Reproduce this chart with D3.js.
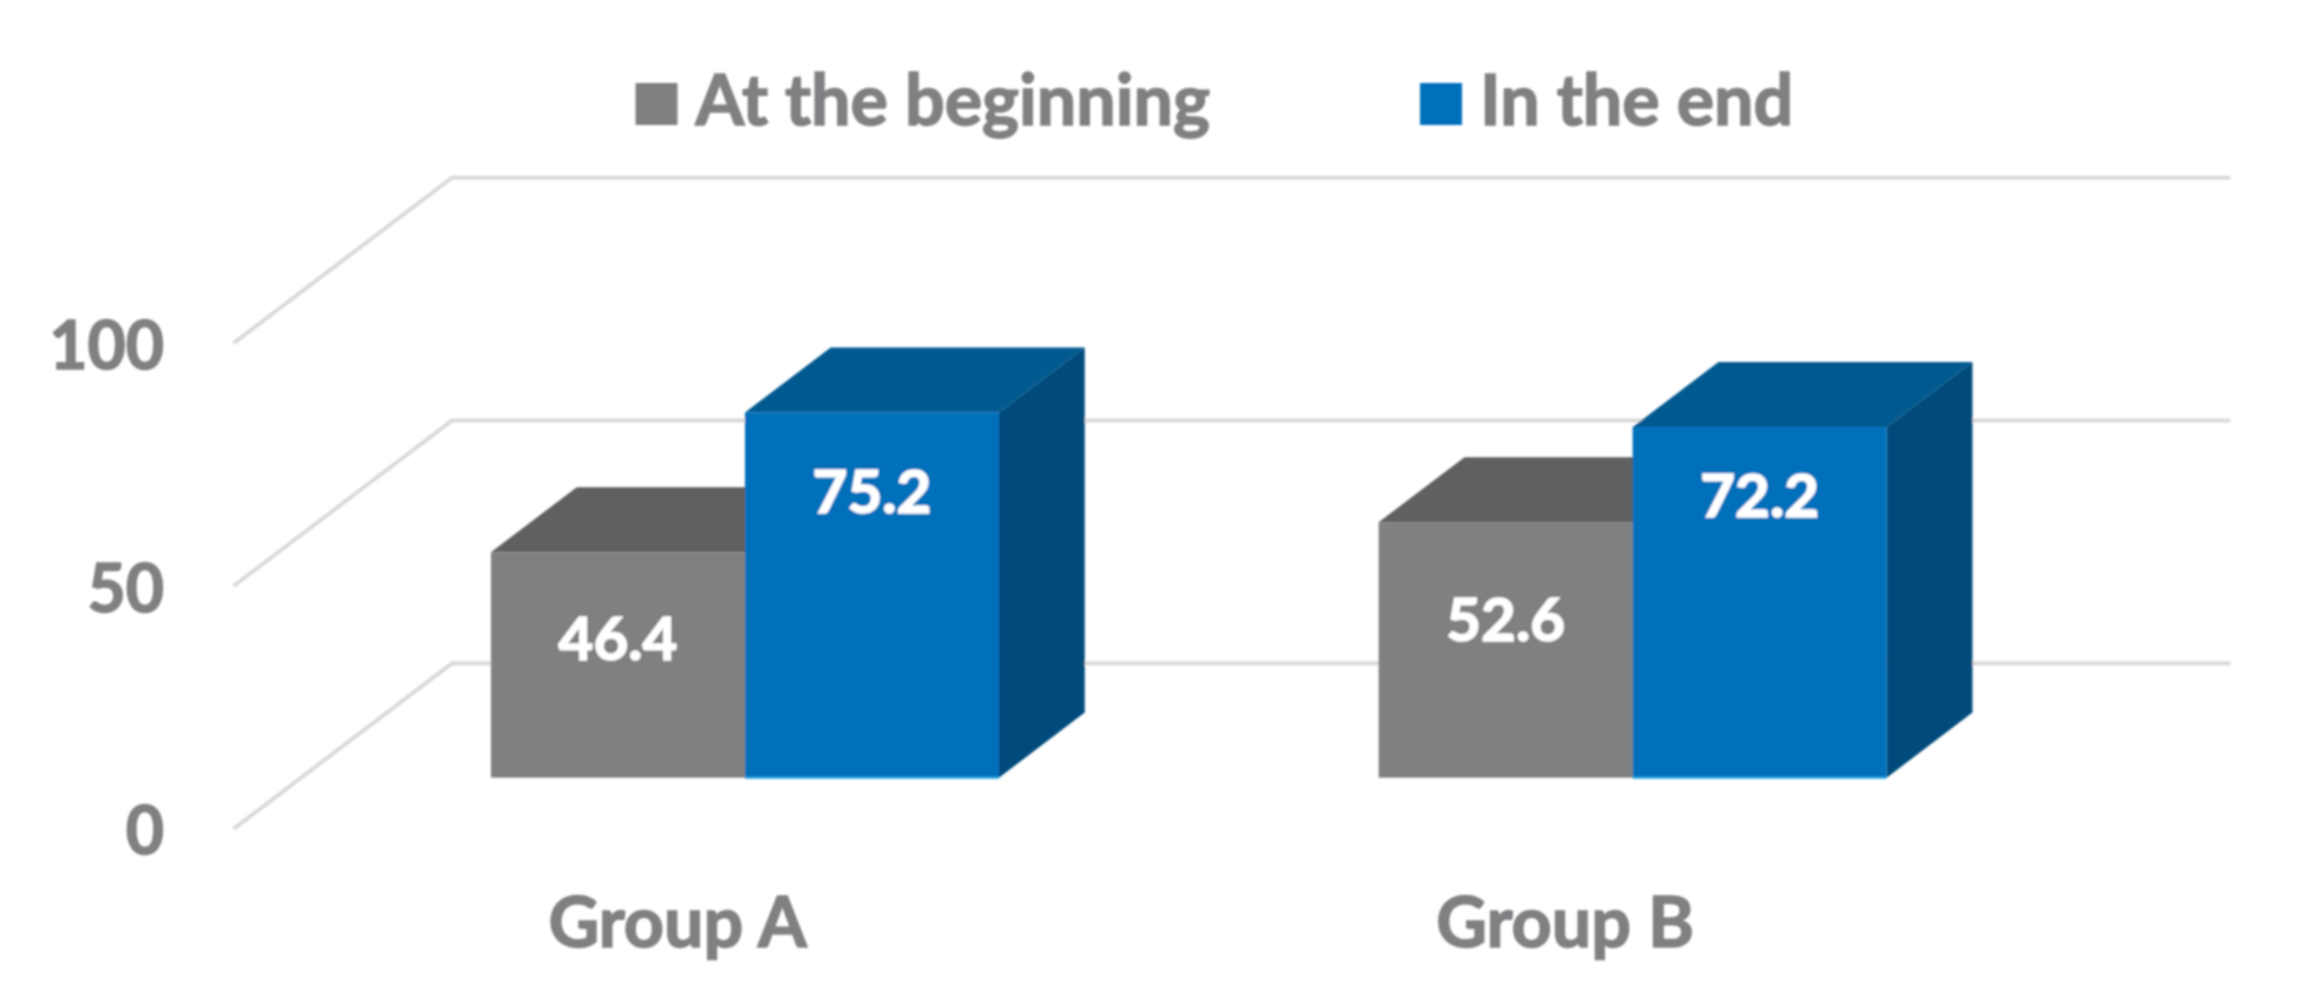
<!DOCTYPE html>
<meta charset="utf-8">
<style>
  body { margin: 0; background: #fff; }
  text { font-family: Lato, sans-serif; font-weight: 700; stroke-width: 1.6px; paint-order: stroke; }
</style>
<body>
<script src="https://d3js.org/d3.v7.min.js"></script>
<script>

var categories = ["Group A", "Group B"];
var seriesNames = ["At the beginning", "In the end"];
var beginning = [46.4, 52.6];
var ending = [75.2, 72.2];
var yTicks = [0, 50, 100];

var width = 2303, height = 1002;
var textColor = "#7f8082";

// face colours per series: front, top, side
var faces = [
    { front: "#7f807f", top: "#5f605f", side: "#5f605f" },
    { front: "#0070bb", top: "#005a90", side: "#064c7b" }
];

// how far up the front face each label sits, per series and group
var labelLift = [[0.616, 0.618], [0.785, 0.805]];

// the floor goes back by this much in pixels at full depth
var depthX = 218.4, depthY = 165.5;
var barDepthStart = 0.309, barDepthEnd = 0.702;

var svg = d3.select("body").append("svg")
    .attr("width", width)
    .attr("height", height);

// the source is a soft, enlarged image
var blur = svg.append("defs").append("filter").attr("id", "soft");
blur.append("feGaussianBlur").attr("stdDeviation", 0.8);

var root = svg.append("g").attr("filter", "url(#soft)");

var x = d3.scaleBand().domain(categories).range([233.6, 2009]);
var y = d3.scaleLinear().domain([0, 100]).range([828.8, 343.2]);
var x1 = d3.scaleBand().domain([0, 1]).range([0, 508]);

var px = function (xv, d) { return xv + d * depthX; };
var py = function (v, d) { return y(v) - d * depthY; };
var pts = function (list) { return list.map(function (p) { return p.join(","); }).join(" "); };

// gridlines: up the side wall, then along the back
root.append("g").selectAll("polyline")
    .data(yTicks)
  .enter().append("polyline")
    .attr("points", function (t) {
        return pts([[px(x.range()[0], 0), py(t, 0)],
                    [px(x.range()[0], 1), py(t, 1)],
                    [px(x.range()[1] + 3, 1), py(t, 1)]]);
    })
    .attr("fill", "none")
    .attr("stroke", "#d9d9d9")
    .attr("stroke-width", 4);

// y axis labels
var yAxis = d3.axisLeft(y).tickValues(yTicks).tickSize(0).tickPadding(0);
var gy = root.append("g")
    .attr("transform", "translate(164,0)")
    .call(yAxis);
gy.select(".domain").remove();
gy.selectAll("text")
    .attr("dy", "0.38em")
    .style("font-size", "66px")
    .attr("fill", textColor)
    .attr("stroke", textColor);

// bars, back to front in drawing order
var rows = [];
categories.forEach(function (c, i) {
    rows.push({ cat: c, i: i, s: 0, v: beginning[i] });
    rows.push({ cat: c, i: i, s: 1, v: ending[i] });
});

var bars = root.append("g").selectAll("g")
    .data(rows)
  .enter().append("g");

var left = function (d) { return x(d.cat) + (x.bandwidth() - x1.range()[1]) / 2 + x1(d.s); };
var right = function (d) { return left(d) + x1.bandwidth(); };

bars.append("polygon") // top
    .attr("points", function (d) {
        return pts([[px(left(d), barDepthStart), py(d.v, barDepthStart)],
                    [px(left(d), barDepthEnd), py(d.v, barDepthEnd)],
                    [px(right(d), barDepthEnd), py(d.v, barDepthEnd)],
                    [px(right(d), barDepthStart), py(d.v, barDepthStart)]]);
    })
    .attr("fill", function (d) { return faces[d.s].top; });

bars.append("polygon") // side
    .attr("points", function (d) {
        return pts([[px(right(d), barDepthStart), py(d.v, barDepthStart)],
                    [px(right(d), barDepthEnd), py(d.v, barDepthEnd)],
                    [px(right(d), barDepthEnd), py(0, barDepthEnd)],
                    [px(right(d), barDepthStart), py(0, barDepthStart)]]);
    })
    .attr("fill", function (d) { return faces[d.s].side; });

bars.append("rect") // front
    .attr("x", function (d) { return px(left(d), barDepthStart); })
    .attr("y", function (d) { return py(d.v, barDepthStart); })
    .attr("width", x1.bandwidth())
    .attr("height", function (d) { return py(0, barDepthStart) - py(d.v, barDepthStart); })
    .attr("fill", function (d) { return faces[d.s].front; });

// light edge along the foot of the blue bars
bars.filter(function (d) { return d.s === 1; }).append("line")
    .attr("x1", function (d) { return px(left(d), barDepthStart); })
    .attr("x2", function (d) { return px(right(d), barDepthStart); })
    .attr("y1", py(0, barDepthStart))
    .attr("y2", py(0, barDepthStart))
    .attr("stroke", "#2aa5e0")
    .attr("stroke-width", 2);

bars.append("text")
    .attr("x", function (d) { return px(left(d), barDepthStart) + x1.bandwidth() / 2; })
    .attr("y", function (d) { return py(d.v * labelLift[d.s][d.i], barDepthStart); })
    .attr("dy", "0.36em")
    .attr("text-anchor", "middle")
    .style("font-size", "60px")
    .attr("fill", "#fff")
    .attr("stroke", "#fff")
    .text(function (d) { return d.v.toFixed(1); });

// category labels
var xAxis = d3.axisBottom(x).tickSize(0).tickPadding(0);
var gx = root.append("g")
    .attr("transform", "translate(0,897)")
    .call(xAxis);
gx.select(".domain").remove();
gx.selectAll("text")
    .style("font-size", "70px")
    .attr("dy", "0.72em")
    .attr("fill", textColor)
    .attr("stroke", textColor);

// legend
var legendX = [635.5, 1420];
var legend = root.append("g").selectAll("g")
    .data(seriesNames)
  .enter().append("g")
    .attr("transform", function (d, i) { return "translate(" + legendX[i] + ",83)"; });

legend.append("rect")
    .attr("width", 42)
    .attr("height", 42)
    .attr("fill", function (d, i) { return faces[i].front; });

legend.append("text")
    .attr("x", 60)
    .attr("y", 41.5)
    .style("font-size", "70px")
    .attr("fill", textColor)
    .attr("stroke", textColor)
    .text(function (d) { return d; });

</script>
</body>
